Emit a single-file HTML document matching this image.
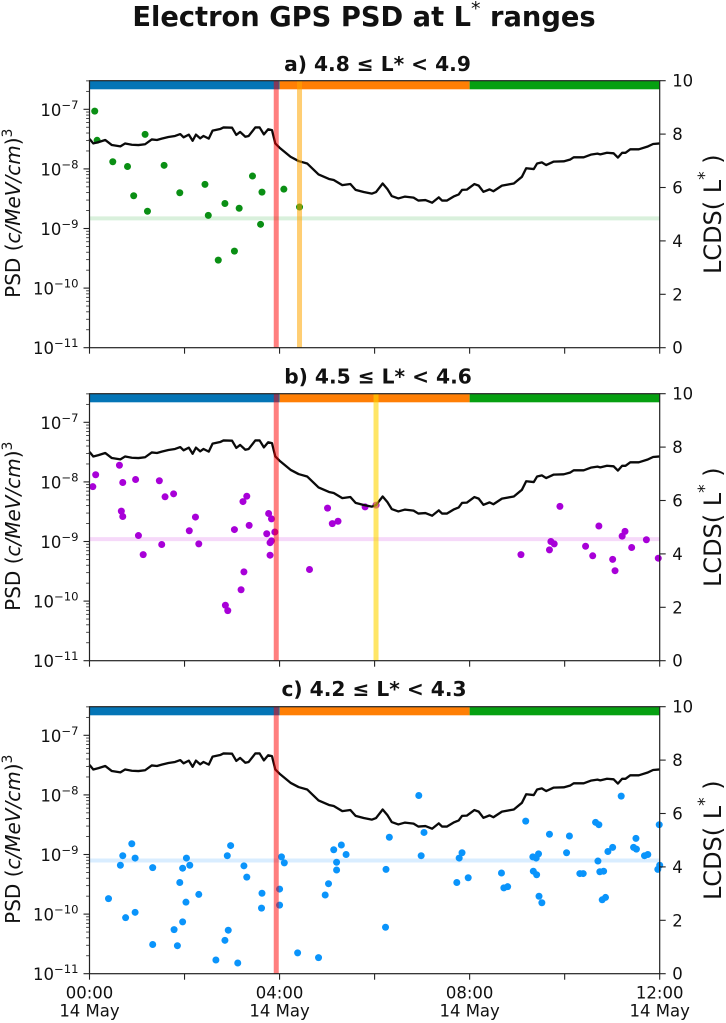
<!DOCTYPE html>
<html lang="en">
<head>
<meta charset="utf-8">
<title>Electron GPS PSD at L* ranges</title>
<style>
html,body{margin:0;padding:0;background:#fff;}
svg{display:block;filter:blur(0.3px);}
text{font-family:"DejaVu Sans","Liberation Sans",sans-serif;fill:#111;}
</style>
</head>
<body>
<svg id="chart" xmlns="http://www.w3.org/2000/svg" width="726" height="1023" viewBox="0 0 726 1023">
  <text x="364" y="26" text-anchor="middle" font-size="27.3" font-weight="bold" fill="#111">Electron GPS PSD at L<tspan dy="-11" font-size="19" font-weight="normal">*</tspan><tspan dy="11"> ranges</tspan></text>
</svg>
<script>
// Shared LCDS curve
const lcdsHours = [0,0.08,0.19,0.33,0.47,0.65,0.75,0.89,1.03,1.17,1.31,1.42,1.52,1.66,1.8,1.91,1.98,2.09,2.17,2.24,2.33,2.4,2.51,2.59,2.75,2.82,3,3.09,3.17,3.28,3.35,3.49,3.58,3.67,3.76,3.84,3.91,4,4.23,4.4,4.58,4.82,5.04,5.14,5.32,5.49,5.6,5.77,5.94,6.03,6.17,6.27,6.36,6.5,6.64,6.82,6.92,7.07,7.21,7.35,7.42,7.52,7.66,7.77,7.84,7.94,8.1,8.19,8.29,8.42,8.5,8.68,8.93,9.1,9.19,9.35,9.42,9.52,9.61,9.77,9.98,10.12,10.19,10.4,10.55,10.69,10.75,10.89,11.03,11.12,11.21,11.28,11.38,11.56,11.74,11.86,12];
const lcdsValues = [7.82,7.65,7.7,7.78,7.59,7.54,7.65,7.6,7.59,7.62,7.8,7.78,7.83,7.89,7.93,8,7.88,7.98,7.75,7.98,7.84,7.93,7.83,8.13,8.19,8.25,8.24,7.97,8.08,7.9,7.93,8.25,8.25,7.99,8.18,8.15,7.65,7.49,7.15,6.99,6.9,6.49,6.32,6.28,6.09,6.13,5.91,5.83,5.77,5.83,6.15,5.94,5.68,5.59,5.66,5.62,5.51,5.53,5.43,5.63,5.51,5.51,5.66,5.74,5.91,5.92,6.13,6.07,5.84,5.93,5.86,6.07,6.15,6.4,6.72,6.69,6.9,6.94,6.84,6.97,6.98,7.05,7.13,7.13,7.23,7.27,7.24,7.3,7.28,7.12,7.3,7.3,7.43,7.43,7.53,7.63,7.65];

// Panel a scatter
const hoursA = [0.11,0.16,0.49,0.8,0.93,1.17,1.22,1.57,1.9,2.43,2.5,2.71,2.85,3.05,3.15,3.43,3.6,3.63,4.09,4.42];
const logPsdA = [-7.03,-7.52,-7.88,-7.96,-8.45,-7.42,-8.71,-7.94,-8.4,-8.26,-8.78,-9.53,-8.58,-9.38,-8.66,-8.12,-8.93,-8.39,-8.34,-8.64];
const meanLogPsdA = -8.83;
const eventHoursA = [3.93,4.42];

// Panel b scatter
const hoursB = [0.07,0.13,0.63,0.7,0.67,0.7,0.97,1.03,1.13,1.47,1.52,1.59,1.77,2.1,2.23,2.3,2.86,2.91,3.05,3.19,3.23,3.25,3.31,3.36,3.73,3.77,3.83,3.8,3.83,3.8,3.9,4.63,5.01,5.11,5.23,5.8,6.03,9.08,9.68,9.71,9.78,9.9,10.44,10.59,10.72,11.01,11.06,11.21,11.27,11.41,11.72,11.97];
const logPsdB = [-8.08,-7.88,-7.72,-8.01,-8.49,-8.58,-7.96,-8.9,-9.22,-7.98,-9.05,-8.25,-8.2,-8.82,-8.59,-9.04,-10.07,-10.16,-8.8,-9.81,-8.33,-9.51,-8.24,-8.73,-8.87,-8.53,-8.62,-9.02,-8.99,-9.23,-8.84,-9.47,-8.44,-8.7,-8.66,-8.42,-8.39,-9.22,-9.14,-9,-9.04,-8.41,-9.08,-9.24,-8.74,-9.3,-9.49,-8.91,-8.83,-9.1,-8.97,-9.28];
const meanLogPsdB = -8.96;
const eventHoursB = [3.93,6.03];

// Panel c scatter
const hoursC = [0.4,0.65,0.7,0.76,0.89,0.96,0.96,1.33,1.33,1.78,1.85,1.9,1.96,1.96,2.03,2.04,2.11,2.3,2.66,2.85,2.9,2.92,2.97,3.12,3.25,3.31,3.63,3.62,4,4,4.04,4.1,4.38,4.82,4.96,5.03,5.14,5.2,5.2,5.3,5.4,6.23,6.24,6.31,6.93,6.98,7.04,7.73,7.78,7.84,7.97,8.67,8.72,8.8,9.18,9.33,9.34,9.4,9.41,9.45,9.46,9.52,9.68,10.04,10.1,10.32,10.39,10.65,10.72,10.7,10.74,10.82,10.79,10.86,10.91,11.01,11.19,11.45,11.51,11.5,11.68,11.75,11.96,11.99,12];
const logPsdC = [-9.74,-9.18,-9.02,-10.06,-8.82,-9.97,-9.06,-10.51,-9.22,-10.26,-10.53,-9.47,-10.13,-9.23,-9.8,-9.06,-9.18,-9.67,-10.77,-10.44,-9.02,-10.27,-8.85,-10.82,-9.19,-9.38,-9.65,-9.9,-9.58,-9.85,-9.04,-9.14,-10.65,-10.73,-9.68,-9.49,-8.92,-9.26,-9.13,-8.84,-9,-10.22,-9.25,-8.71,-8.01,-9.02,-8.63,-9.47,-9.06,-8.97,-9.39,-9.31,-9.56,-9.54,-8.44,-9.04,-9.28,-9.06,-9.34,-8.99,-9.7,-9.81,-8.66,-8.97,-8.69,-9.32,-9.32,-8.46,-8.5,-9.11,-9.29,-9.28,-9.76,-9.72,-8.95,-8.88,-8.02,-8.88,-8.91,-8.73,-9.02,-9,-9.25,-8.5,-9.18];
const meanLogPsdC = -9.1;
const eventHoursC = [3.93];

// Axis ticks and labels
const logTickExponents = [-11,-10,-9,-8,-7];
const lcdsTicks = [0,2,4,6,8,10];
const hourTicks = [0,2,4,6,8,10,12];
const hourTickLabels = {0:'00:00',4:'04:00',8:'08:00',12:'12:00'};
const dateLabel = '14 May';
const phaseStarts = [0,4,8];
const phaseEnds = [4,8,12];
const phaseNames = ['phase-bar-1','phase-bar-2','phase-bar-3'];
const panelLetters = ['a','b','c'];
const panelTitles = ['a) 4.8 \u2264 L* < 4.9','b) 4.5 \u2264 L* < 4.6','c) 4.2 \u2264 L* < 4.3'];

const svg = document.getElementById('chart');
const NS = 'http://www.w3.org/2000/svg';
const X0 = 89.5, X1 = 659.7, PH = 267;
const LOG_MIN = -11, LOG_MAX = -6.52;
const tops = [80.7, 393.7, 706.7];
const titleX = [377.5, 378, 374];
const titleGap = [9.7, 10.4, 10.7];
const phaseColors = ['#0475b6','#ff7f05','#06a011'];
const pointColors = ['#0a8f14','#a800d8','#0a94fb'];
const meanColors = ['#d9f0dc','#f6d9f9','#d9edff'];
const eventColors = [['#ff0000','#ffa500'],['#ff0000','#ffd500'],['#ff0000']];
const eventOpacity = [[0.5,0.55],[0.5,0.6],[0.5]];

function make(tag, attrs, parent) {
  const e = document.createElementNS(NS, tag);
  for (const k in attrs) e.setAttribute(k, attrs[k]);
  parent.appendChild(e);
  return e;
}
function xScale(h) { return X0 + (h / 12) * (X1 - X0); }

function drawPanel(idx, hours, logs, meanLog, events) {
  const top = tops[idx], bottom = top + PH;
  const yLog = v => bottom - (v - LOG_MIN) / (LOG_MAX - LOG_MIN) * PH;
  const yL = v => bottom - (v / 10) * PH;
  const letter = panelLetters[idx];

  const g = make('g', {}, svg);
  
  

  const title = make('text', {x: titleX[idx], y: top - titleGap[idx], 'text-anchor': 'middle', 'font-size': 20.2, 'font-weight': 'bold', fill: '#111'}, g);
  title.textContent = panelTitles[idx];
  
  

  const mean = make('line', {x1: X0, x2: X1, y1: yLog(meanLog), y2: yLog(meanLog), stroke: meanColors[idx], 'stroke-width': 4}, g);
  
  

  hours.forEach((h, i) => {
    const c = make('circle', {cx: xScale(h), cy: yLog(logs[i]), r: 3.5, fill: pointColors[idx]}, g);
    
    
  });

  phaseStarts.forEach((s, i) => {
    const r = make('rect', {x: xScale(s), y: top, width: xScale(phaseEnds[i]) - xScale(s), height: 8.6, fill: phaseColors[i]}, g);
    
    
  });

  const d = lcdsHours.map((h, i) => (i ? 'L' : 'M') + xScale(h).toFixed(2) + ' ' + yL(lcdsValues[i]).toFixed(2)).join('');
  const line = make('path', {d: d, fill: 'none', stroke: '#0a0a0a', 'stroke-width': 2.3, 'stroke-linejoin': 'round'}, g);
  
  

  events.forEach((h, i) => {
    const v = make('line', {x1: xScale(h), x2: xScale(h), y1: top, y2: bottom, stroke: eventColors[idx][i], 'stroke-opacity': eventOpacity[idx][i], 'stroke-width': 5}, g);
    
    
  });

  const frame = make('rect', {x: X0, y: top, width: X1 - X0, height: PH, fill: 'none', stroke: '#222', 'stroke-width': 1.2}, g);
  
  

  // Left log axis
  logTickExponents.forEach(exp => {
    const y = yLog(exp);
    const t = make('line', {x1: X0 - 6, x2: X0, y1: y, y2: y, stroke: '#222', 'stroke-width': 1.1}, g);
    
    
    const lab = make('text', {x: X0 - 11, y: y + 6.5, 'text-anchor': 'end', 'font-size': 16.5}, g);
    
    
    const base = make('tspan', {}, lab);
    base.textContent = '10';
    const sup = make('tspan', {dy: -7, 'font-size': 11.6}, lab);
    sup.textContent = '\u2212' + Math.abs(exp);
  });
  for (let exp = -11; exp <= -7; exp++) {
    for (let m = 2; m <= 9; m++) {
      const v = exp + Math.log10(m);
      if (v > LOG_MAX) continue;
      const y = yLog(v);
      const t = make('line', {x1: X0 - 3.4, x2: X0, y1: y, y2: y, stroke: '#222', 'stroke-width': 0.8}, g);
      
      
    }
  }

  // Right LCDS axis
  lcdsTicks.forEach(v => {
    const y = yL(v);
    const t = make('line', {x1: X1, x2: X1 + 6, y1: y, y2: y, stroke: '#222', 'stroke-width': 1.1}, g);
    
    
    const lab = make('text', {x: X1 + 12.5, y: y + 6, 'font-size': 16.5}, g);
    lab.textContent = String(v);
    
    
  });

  // Bottom time axis
  hourTicks.forEach(h => {
    const x = xScale(h);
    const t = make('line', {x1: x, x2: x, y1: bottom, y2: bottom + 6, stroke: '#222', 'stroke-width': 1.1}, g);
    
    
    if (idx === 2 && hourTickLabels[h]) {
      const a = make('text', {x: x, y: bottom + 25, 'text-anchor': 'middle', 'font-size': 16.5}, g);
      a.textContent = hourTickLabels[h];
      
      
      const b = make('text', {x: x, y: bottom + 43, 'text-anchor': 'middle', 'font-size': 16.5}, g);
      b.textContent = dateLabel;
      
      
    }
  });

  // Axis titles
  const mid = top + PH / 2 - 1;
  const yTitle = make('text', {transform: 'translate(20,' + mid + ') rotate(-90)', 'text-anchor': 'middle', 'font-size': 20}, g);
  
  
  const s1 = make('tspan', {}, yTitle);
  s1.textContent = 'PSD (';
  const s2 = make('tspan', {'font-style': 'italic'}, yTitle);
  s2.textContent = 'c/MeV/cm';
  const s3 = make('tspan', {}, yTitle);
  s3.textContent = ')';
  const s4 = make('tspan', {dy: -8, 'font-size': 14}, yTitle);
  s4.textContent = '3';

  const rTitle = make('text', {transform: 'translate(721,' + (mid + 1) + ') rotate(-90)', 'text-anchor': 'middle', 'font-size': 24}, g);
  
  
  const r1 = make('tspan', {}, rTitle);
  r1.textContent = 'LCDS( L';
  const r2 = make('tspan', {dy: -11, 'font-size': 17}, rTitle);
  r2.textContent = '*';
  const r3 = make('tspan', {dy: 11}, rTitle);
  r3.textContent = ' )';
}

drawPanel(0, hoursA, logPsdA, meanLogPsdA, eventHoursA);
drawPanel(1, hoursB, logPsdB, meanLogPsdB, eventHoursB);
drawPanel(2, hoursC, logPsdC, meanLogPsdC, eventHoursC);
</script>
</body>
</html>
